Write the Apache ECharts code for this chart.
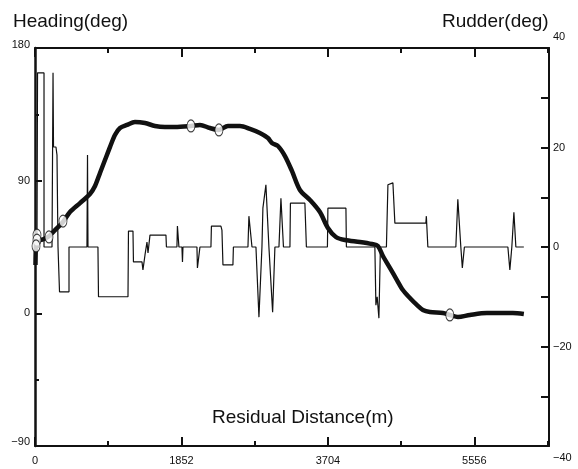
<!DOCTYPE html>
<html>
<head>
<meta charset="utf-8">
<script src="https://cdn.jsdelivr.net/npm/echarts@6/dist/echarts.min.js"></script>
<style>
html,body{margin:0;padding:0;background:#fff;}
#chart{width:578px;height:469px;}
</style>
</head>
<body>
<div id="chart"></div>
<script>
// Heading (deg), left axis
const headingDist = [6,13,25,63,164,253,354,442,569,695,759,822,885,948,1011,1075,1163,1264,1391,1517,1643,1770,1972,2086,2212,2326,2440,2592,2718,2844,2946,2996,3072,3161,3249,3350,3477,3603,3704,3805,3919,4108,4260,4336,4400,4488,4577,4652,4741,4829,4905,4994,5158,5246,5348,5499,5714,5916,6043,6182];
const headingDeg  = [32.8,47.7,51.1,49.7,51.8,56.5,62.0,68.7,74.8,81.0,86.4,95.2,104.0,112.8,121.0,125.7,127.8,129.8,129.1,127.1,126.4,126.4,127.1,127.8,125.7,124.4,127.1,127.1,125.1,122.3,118.9,115.6,113.5,106.7,96.6,83.7,76.9,68.7,57.9,51.8,49.7,48.4,47.0,45.7,38.9,30.8,22.6,15.8,10.4,5.7,2.3,0.9,0.2,-1.1,-2.5,-1.1,0.2,0.2,0.2,-0.5];

// Marker points on heading curve
const markerDist = [25,25,13,177,354,1972,2326,5246];
const markerDeg  = [53.1,49.7,45.7,51.8,62.6,127.1,124.4,-1.1];

// Rudder (deg), right axis
const rudderDist = [25,32,114,114,215,228,234,265,278,291,303,310,430,430,657,664,670,796,803,1176,1182,1239,1245,1353,1365,1391,1416,1429,1454,1656,1662,1795,1801,1814,1820,1858,1865,1871,2048,2054,2073,2086,2225,2231,2351,2364,2377,2503,2509,2693,2705,2718,2744,2794,2832,2870,2882,2895,2920,2958,2971,3005,3034,3085,3110,3123,3142,3224,3230,3413,3432,3698,3704,3932,3938,4298,4311,4327,4349,4368,4444,4463,4526,4538,4551,4943,4949,4962,4968,5322,5347,5360,5385,5404,5430,5980,6005,6030,6056,6081,6182];
const rudderDeg  = [0,35.0,35.0,0,0,35.0,20.1,20.1,18.5,0,0,-9.0,-9.0,0,0,18.5,0,0,-10.0,-10.0,3.2,3.2,-3.0,-3.0,-4.6,-1.6,1.0,-1.2,2.4,2.4,0,0,4.2,4.2,0,0,-3.0,0,0,-4.2,-4.2,0,0,4.2,4.2,3.4,-3.6,-3.6,0,0,6.2,6.2,0,0,-14.1,0,7.8,7.8,12.5,0,0,-13.1,0,0,9.8,9.8,0,0,8.8,8.8,0,0,7.8,7.8,0,0,-11.7,-10.0,-14.3,0,0,12.5,12.9,12.9,4.8,4.8,6.2,6.2,0,0,9.6,9.6,0,-4.2,0,0,-4.6,0,7.0,0,0];

const xLabels = [0,1852,3704,5556];

const zip = (a,b) => a.map((v,i)=>[v,b[i]]);
const minus = v => (v < 0 ? '\u2212' + Math.abs(v) : String(v));
const FONT = 'Liberation Sans, Arial, sans-serif';
const INK = '#111';

const chart = echarts.init(document.getElementById('chart'), null, {renderer:'canvas'});
chart.setOption({
  animation:false,
  backgroundColor:'#fff',
  textStyle:{fontFamily:FONT,color:INK},
  title:[
    {text:'Heading(deg)',left:8,top:7,textStyle:{fontFamily:FONT,fontSize:19,fontWeight:'normal',color:INK}},
    {text:'Rudder(deg)',left:437,top:7,textStyle:{fontFamily:FONT,fontSize:19,fontWeight:'normal',color:INK}},
    {text:'Residual Distance(m)',left:207,top:403,textStyle:{fontFamily:FONT,fontSize:19,fontWeight:'normal',color:INK}}
  ],
  grid:{left:35,right:29,top:48,bottom:23,containLabel:false},
  xAxis:[
    {type:'value',position:'bottom',min:0,max:6500,interval:1852,
     axisLine:{show:true,onZero:false,lineStyle:{color:INK,width:2}},
     axisTick:{show:true,inside:true,length:9,lineStyle:{color:INK,width:2}},
     minorTick:{show:true,splitNumber:2,length:5,lineStyle:{color:INK,width:2}},
     splitLine:{show:false},
     axisLabel:{show:true,fontSize:11,color:INK,fontFamily:FONT,margin:9,showMaxLabel:false,
       formatter:v => xLabels.indexOf(v) >= 0 ? String(v) : ''}},
    {type:'value',position:'top',min:0,max:6500,interval:1852,
     axisLine:{show:true,onZero:false,lineStyle:{color:INK,width:2}},
     axisTick:{show:true,inside:true,length:9,lineStyle:{color:INK,width:2}},
     minorTick:{show:true,splitNumber:2,length:5,lineStyle:{color:INK,width:2}},
     splitLine:{show:false},axisLabel:{show:false}}
  ],
  yAxis:[
    {type:'value',position:'left',min:-90,max:180,interval:90,
     axisLine:{show:true,onZero:false,lineStyle:{color:INK,width:2.5}},
     axisTick:{show:true,inside:true,length:7,lineStyle:{color:INK,width:2}},
     minorTick:{show:true,splitNumber:2,length:4,lineStyle:{color:INK,width:2}},
     splitLine:{show:false},
     axisLabel:{fontSize:11,color:INK,fontFamily:FONT,margin:5,
       formatter:v => v === 180 ? '{hi|180}' : v === -90 ? '{lo|\u221290}' : minus(v),
       rich:{hi:{fontSize:11,padding:[0,0,6,0]},lo:{fontSize:11,padding:[0,0,8,0]}}}},
    {type:'value',position:'right',min:-40,max:40,interval:20,
     axisLine:{show:true,onZero:false,lineStyle:{color:INK,width:2}},
     axisTick:{show:true,inside:true,length:8,lineStyle:{color:INK,width:2}},
     minorTick:{show:true,splitNumber:2,length:8,lineStyle:{color:INK,width:2}},
     splitLine:{show:false},
     axisLabel:{fontSize:11,color:INK,fontFamily:FONT,margin:4,
       verticalAlignMaxLabel:'bottom',verticalAlignMinLabel:'top',
       formatter:v => v === 40 ? '{hi|40}' : v === -40 ? '{lo|\u221240}' : minus(v),
       rich:{hi:{fontSize:11,padding:[0,0,6,0]},lo:{fontSize:11,padding:[6,0,0,0]}}}}
  ],
  series:[
    {name:'Rudder',type:'line',xAxisIndex:0,yAxisIndex:1,data:zip(rudderDist,rudderDeg),
     showSymbol:false,symbol:'none',lineStyle:{color:INK,width:1.2},z:2},
    {name:'Heading',type:'line',xAxisIndex:0,yAxisIndex:0,data:zip(headingDist,headingDeg),
     showSymbol:false,symbol:'none',smooth:0.3,lineStyle:{color:INK,width:4.5},z:3},
    {name:'Markers',type:'scatter',xAxisIndex:0,yAxisIndex:0,data:zip(markerDist,markerDeg),
     symbol:'circle',symbolSize:[8,12],itemStyle:{color:'#fff',borderColor:INK,borderWidth:1},z:4}
  ]
});
</script>
</body>
</html>
